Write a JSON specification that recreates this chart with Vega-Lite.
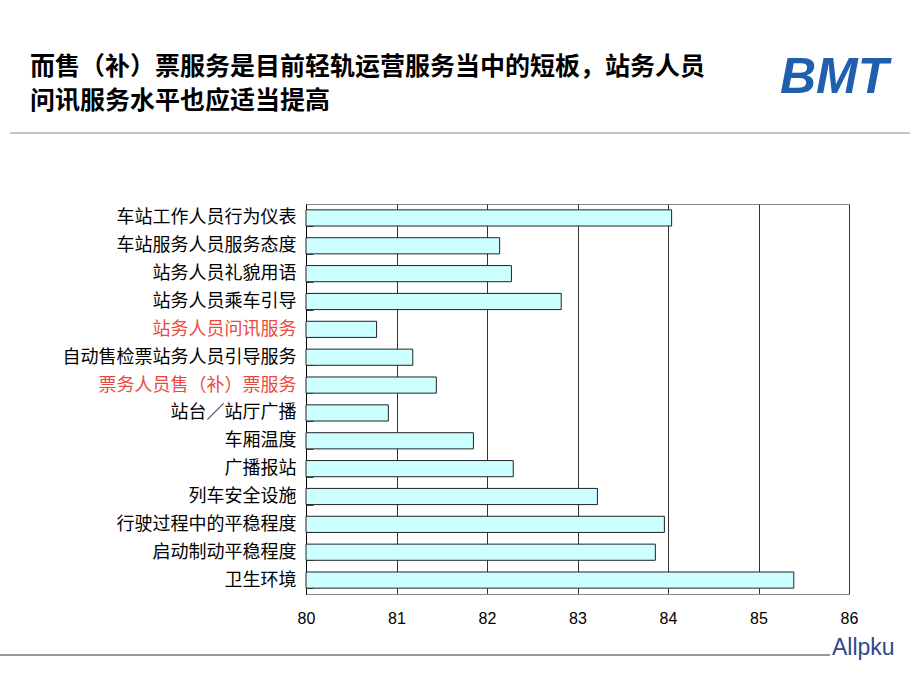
{
  "$schema": "https://vega.github.io/schema/vega-lite/v6.json",
  "width": 543,
  "height": 390,
  "autosize": {"type": "none"},
  "padding": {"left": 306, "top": 204, "right": 71, "bottom": 96},
  "background": "white",
  "title": {
    "text": ["而售（补）票服务是目前轻轨运营服务当中的短板，站务人员", "问讯服务水平也应适当提高"],
    "anchor": "start",
    "frame": "group",
    "dx": -276,
    "dy": 81,
    "offset": 20,
    "font": "Noto Sans CJK SC",
    "fontSize": 25,
    "fontWeight": "bold",
    "lineHeight": 34,
    "color": "#000000"
  },
  "config": {
    "view": {"stroke": "#8a8a8a", "strokeWidth": 1},
    "axis": {"labelFont": "Noto Sans CJK SC", "labelColor": "#000000"}
  },
  "layer": [
    {
      "data": {
        "values": [
          {"item": "车站工作人员行为仪表", "score": 84.04},
          {"item": "车站服务人员服务态度", "score": 82.14},
          {"item": "站务人员礼貌用语", "score": 82.27},
          {"item": "站务人员乘车引导", "score": 82.82},
          {"item": "站务人员问讯服务", "score": 80.78},
          {"item": "自动售检票站务人员引导服务", "score": 81.18},
          {"item": "票务人员售（补）票服务", "score": 81.44},
          {"item": "站台／站厅广播", "score": 80.91},
          {"item": "车厢温度", "score": 81.85},
          {"item": "广播报站", "score": 82.29},
          {"item": "列车安全设施", "score": 83.22},
          {"item": "行驶过程中的平稳程度", "score": 83.96},
          {"item": "启动制动平稳程度", "score": 83.86},
          {"item": "卫生环境", "score": 85.39}
        ]
      },
      "mark": {"type": "bar", "fill": "#ccffff", "stroke": "#222222", "strokeWidth": 1},
      "encoding": {
        "y": {
          "field": "item",
          "type": "nominal",
          "sort": null,
          "scale": {"paddingInner": 0.42, "paddingOuter": 0.21},
          "axis": {
            "title": null,
            "labelFontSize": 18,
            "labelPadding": 17,
            "labelLimit": 400,
            "tickBand": "extent",
            "tickSize": -7,
            "tickColor": "#444444",
            "domainColor": "#000000",
            "labelColor": {
              "condition": {"test": "datum.value === '站务人员问讯服务' || datum.value === '票务人员售（补）票服务'", "value": "#ea4a3f"},
              "value": "#000000"
            }
          }
        },
        "x": {
          "field": "score",
          "type": "quantitative",
          "scale": {"domain": [80, 86], "zero": false, "nice": false},
          "axis": {
            "title": null,
            "values": [80, 81, 82, 83, 84, 85, 86],
            "labelFont": "Liberation Sans",
            "labelFontSize": 16,
            "labelPadding": 16,
            "labelFlush": false,
            "labelDx": -4,
            "ticks": false,
            "grid": true,
            "gridColor": "#333333",
            "gridOpacity": 1,
            "domainColor": "#8a8a8a"
          }
        },
        "x2": {"datum": 80}
      }
    },
    {
      "data": {"values": [{"label": "BMT"}]},
      "mark": {"type": "text", "font": "Liberation Sans", "fontSize": 50, "fontWeight": "bold", "fontStyle": "italic", "color": "#1f5fae", "align": "left", "baseline": "middle"},
      "encoding": {"text": {"field": "label"}, "x": {"value": 474}, "y": {"value": -126}}
    },
    {
      "data": {"values": [{"label": "Allpku"}]},
      "mark": {"type": "text", "font": "Liberation Sans", "fontSize": 23, "color": "#2e4a8a", "align": "left", "baseline": "middle"},
      "encoding": {"text": {"field": "label"}, "x": {"value": 526}, "y": {"value": 444}}
    },
    {
      "data": {"values": [{"k": "top"}]},
      "mark": {"type": "rule", "stroke": "#8a8a8a", "strokeWidth": 1},
      "encoding": {"x": {"value": -296}, "x2": {"value": 604}, "y": {"value": -71}}
    },
    {
      "data": {"values": [{"k": "bottom"}]},
      "mark": {"type": "rule", "stroke": "#333333", "strokeWidth": 1},
      "encoding": {"x": {"value": -306}, "x2": {"value": 524}, "y": {"value": 451}}
    }
  ]
}
